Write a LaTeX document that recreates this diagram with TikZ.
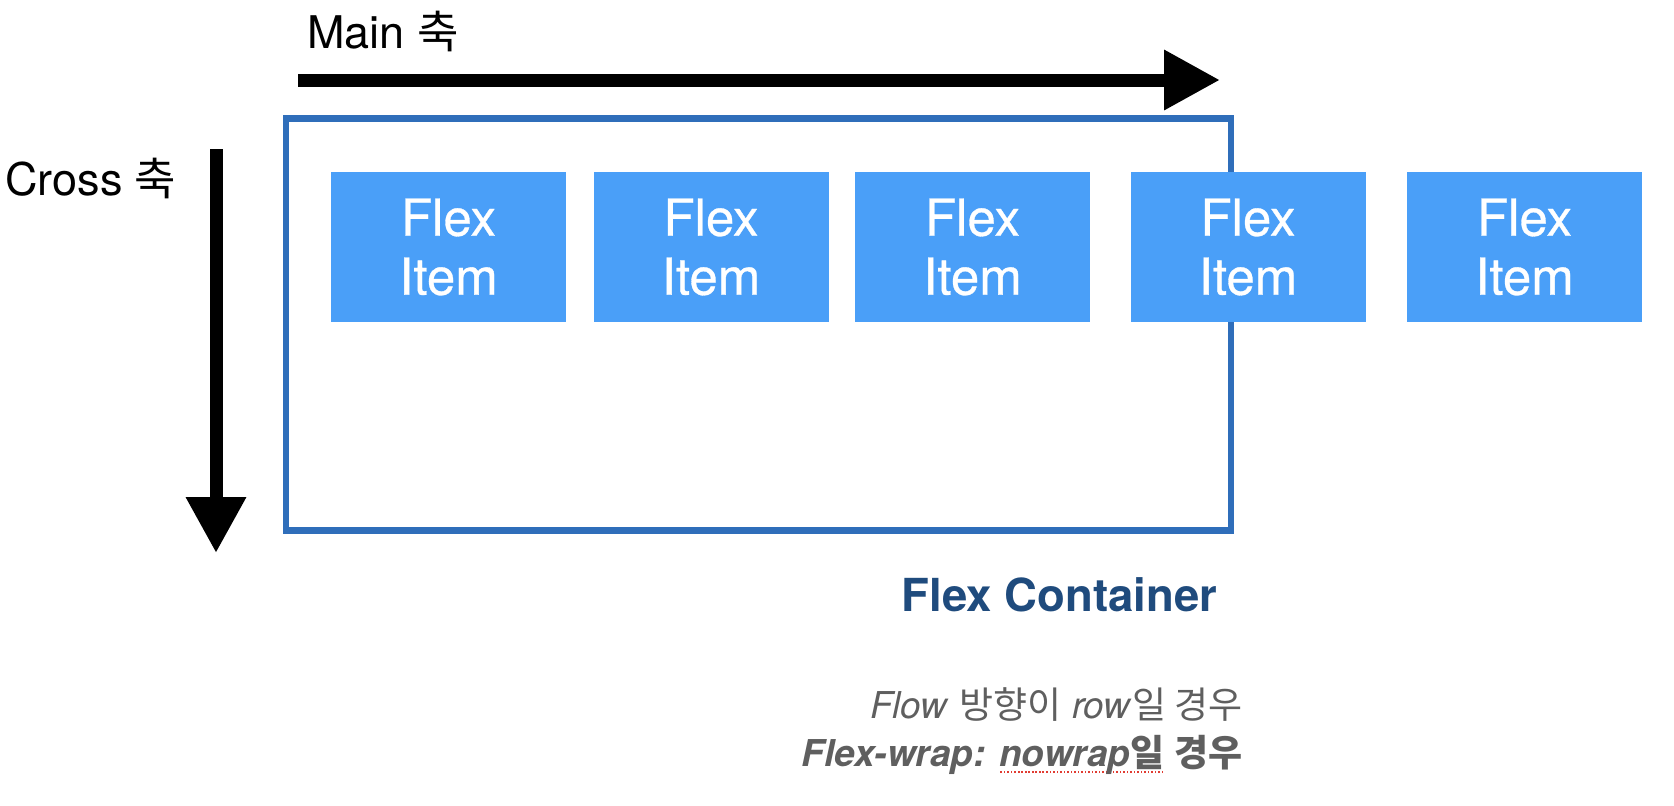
\documentclass[tikz,border=0pt]{standalone}
\usepackage{fontspec}
\setmainfont{TeX Gyre Heros}
\newfontfamily\kr{Noto Sans CJK KR}
\newfontfamily\itemfont{TeX Gyre Heros}[FakeBold=0.6]
\usetikzlibrary{arrows.meta}
\definecolor{itemblue}{RGB}{74,159,248}
\definecolor{boxblue}{RGB}{47,110,186}
\definecolor{titleblue}{RGB}{31,75,125}
\definecolor{graytext}{RGB}{95,95,95}
\definecolor{spellred}{RGB}{225,60,50}
\newsavebox\spellbox
\newcommand\spellmark[1]{\sbox\spellbox{#1}\rlap{\raisebox{-7pt}{\color{spellred}\hbox to \wd\spellbox{\xleaders\hbox to 3.5pt{\hss\rule{1.6pt}{1.6pt}\hss}\hfill}}}\usebox\spellbox}
\begin{document}
\begin{tikzpicture}[x=1pt,y=-1pt,
  item/.style={fill=itemblue, minimum width=235pt, minimum height=150pt, inner sep=0pt,
    align=center, text=white, font=\itemfont\fontsize{51}{59}\selectfont},
  axis/.style={line width=13pt, -{Triangle[length=56pt,width=57pt]}},
  container/.style={draw=boxblue, line width=6.5pt, minimum width=945pt, minimum height=412pt, inner sep=0pt},
  axislabel/.style={anchor=base west, inner sep=0pt, font=\fontsize{45}{52}\selectfont},
  note/.style={anchor=base east, inner sep=0pt, text=graytext, font=\fontsize{37}{44}\selectfont},
]
\useasboundingbox (0,0) rectangle (1674,806);
% container
\node[container] (cont) at (758.5,324.5) {};
% items
\node[item] (i1) at (448.5,247) {Flex\\Item};
\node[item] (i2) at (711,247) {Flex\\Item};
\node[item] (i3) at (972.5,247) {Flex\\Item};
\node[item] (i4) at (1248,247) {Flex\\Item};
\node[item] (i5) at (1524.5,247) {Flex\\Item};
% axes
\coordinate (mainS) at (298,80);
\coordinate (mainE) at (1220,80);
\draw[axis] (mainS) -- (mainE);
\coordinate (crossS) at (216,149);
\coordinate (crossE) at (216,553);
\draw[axis] (crossS) -- (crossE);
% labels
\node[axislabel] (mainlbl) at (307,48) {Main {\kr 축}};
\node[axislabel] (crosslbl) at (5,195) {Cross {\kr 축}};
\node[anchor=base, inner sep=0pt, text=titleblue, font=\fontsize{45.5}{52}\selectfont\bfseries] (ctitle) at (1059.5,611) {Flex Container};
\node[note] (note1) at (1243,718) {\textit{Flow} {\kr 방향이} \textit{row}{\kr 일 경우}};
\node[note] (note2) at (1243,766) {\textbf{\textit{Flex-wrap: }}\spellmark{\textbf{\textit{nowrap}}{\kr\bfseries 일}} {\kr\bfseries 경우}};
\end{tikzpicture}
\end{document}
